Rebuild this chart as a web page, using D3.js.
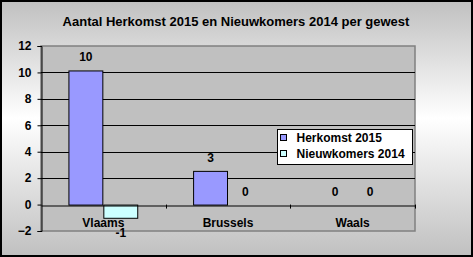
<!DOCTYPE html>
<html>
<head>
<meta charset="utf-8">
<script src="https://cdn.jsdelivr.net/npm/d3@7"></script>
<style>
  html, body { margin: 0; padding: 0; }
  body { width: 473px; height: 257px; overflow: hidden; }
  text { font-family: Arial, "Liberation Sans", sans-serif; font-weight: bold; }
</style>
</head>
<body>
<div id="grafiek"></div>
<script>
// Data
const titel = "Aantal Herkomst 2015 en Nieuwkomers 2014 per gewest";
const gewesten = ["Vlaams", "Brussels", "Waals"];
const herkomst2015 = [10.15, 2.55, 0];
const nieuwkomers2014 = [-1, 0, 0];
const reeksNamen = ["Herkomst 2015", "Nieuwkomers 2014"];
const yTicks = [-2, 0, 2, 4, 6, 8, 10, 12];

const cores = { "Herkomst 2015": "#9999ff", "Nieuwkomers 2014": "#ccffff" };

const W = 473, H = 257;
const plot = { left: 41, right: 415, top: 46, bottom: 231 };

const svg = d3.select("#grafiek")
  .append("svg")
  .attr("width", W)
  .attr("height", H);

// achtergrond verloop
const defs = svg.append("defs");
const grad = defs.append("linearGradient")
  .attr("id", "achtergrond")
  .attr("x1", 0).attr("y1", 0).attr("x2", 0).attr("y2", 1);
grad.append("stop").attr("offset", "0%").attr("stop-color", "#c0c0c0");
grad.append("stop").attr("offset", "46%").attr("stop-color", "#ffffff");
grad.append("stop").attr("offset", "100%").attr("stop-color", "#c0c0c0");

svg.append("rect")
  .attr("x", 1).attr("y", 1)
  .attr("width", W - 2).attr("height", H - 2)
  .attr("fill", "url(#achtergrond)")
  .attr("stroke", "#000")
  .attr("stroke-width", 2);

// titel
svg.append("text")
  .attr("x", 236)
  .attr("y", 26)
  .attr("text-anchor", "middle")
  .style("font-size", "13px")
  .text(titel);

// schalen
const y = d3.scaleLinear()
  .domain([-2, 12])
  .range([plot.bottom, plot.top]);

const x = d3.scaleBand()
  .domain(gewesten)
  .range([plot.left, plot.right])
  .paddingInner(0.44)
  .paddingOuter(0.22);

const xReeks = d3.scaleBand()
  .domain(reeksNamen)
  .range([0, x.bandwidth()]);

// plotgebied
svg.append("rect")
  .attr("x", plot.left).attr("y", plot.top)
  .attr("width", plot.right - plot.left)
  .attr("height", plot.bottom - plot.top)
  .attr("fill", "#c0c0c0")
  .attr("stroke", "#808080")
  .attr("stroke-width", 1.5);

// rasterlijnen
svg.append("g")
  .selectAll("line")
  .data(yTicks.filter(d => d > 0 && d < 12))
  .join("line")
  .attr("x1", plot.left).attr("x2", plot.right)
  .attr("y1", d => Math.round(y(d)) + 0.5)
  .attr("y2", d => Math.round(y(d)) + 0.5)
  .attr("stroke", "#000")
  .attr("stroke-width", 1);

// Y-as
const yAxis = svg.append("g")
  .attr("transform", `translate(${plot.left + 0.5},0)`)
  .call(d3.axisLeft(y).tickValues(yTicks).tickSize(4).tickPadding(6));
yAxis.select(".domain").attr("stroke", "#000");
yAxis.selectAll("text").style("font-size", "12px").attr("fill", "#000");

// staven
const reeksen = [
  { naam: reeksNamen[0], waarden: herkomst2015 },
  { naam: reeksNamen[1], waarden: nieuwkomers2014 }
];

const dadosStaven = [];
reeksen.forEach(r => {
  r.waarden.forEach((v, i) => dadosStaven.push({ gewest: gewesten[i], reeks: r.naam, waarde: v }));
});

svg.append("g")
  .selectAll("rect")
  .data(dadosStaven.filter(d => d.waarde !== 0))
  .join("rect")
  .attr("x", d => x(d.gewest) + xReeks(d.reeks) + 0.5)
  .attr("y", d => y(Math.max(0, d.waarde)) + 0.5)
  .attr("width", xReeks.bandwidth() - 1)
  .attr("height", d => Math.abs(y(d.waarde) - y(0)))
  .attr("fill", d => cores[d.reeks])
  .attr("stroke", "#000")
  .attr("stroke-width", 1);

// X-as op 0
const xAxis = svg.append("g")
  .attr("transform", `translate(0,${Math.round(y(0)) + 0.5})`)
  .call(d3.axisBottom(x).tickSize(0).tickPadding(13));
xAxis.select(".domain").attr("stroke", "#000");
xAxis.selectAll("text").style("font-size", "12px").attr("fill", "#000");

// tick marks tussen de categorieën
svg.append("g")
  .selectAll("line")
  .data(gewesten)
  .join("line")
  .attr("x1", d => Math.round(x(d) + x.bandwidth() + x.step() * x.paddingInner() / 2) + 0.5)
  .attr("x2", d => Math.round(x(d) + x.bandwidth() + x.step() * x.paddingInner() / 2) + 0.5)
  .attr("y1", y(0))
  .attr("y2", y(0) + 4)
  .attr("stroke", "#000");

// waardelabels
svg.append("g")
  .selectAll("text")
  .data(dadosStaven)
  .join("text")
  .attr("x", d => x(d.gewest) + xReeks(d.reeks) + xReeks.bandwidth() / 2)
  .attr("y", d => d.waarde < 0 ? y(d.waarde) + 19 : y(d.waarde) - 9)
  .attr("text-anchor", "middle")
  .style("font-size", "12px")
  .text(d => Math.round(d.waarde));

// legenda
const leg = svg.append("g").attr("transform", "translate(277.5,129.5)");
leg.append("rect")
  .attr("width", 135).attr("height", 35)
  .attr("fill", "#fff")
  .attr("stroke", "#000");
reeksNamen.forEach((naam, i) => {
  leg.append("rect")
    .attr("x", 3).attr("y", 5 + i * 16)
    .attr("width", 6).attr("height", 6)
    .attr("fill", cores[naam])
    .attr("stroke", "#000");
  leg.append("text")
    .attr("x", 19).attr("y", 12.5 + i * 16)
    .style("font-size", "12px")
    .text(naam);
});
</script>
</body>
</html>
